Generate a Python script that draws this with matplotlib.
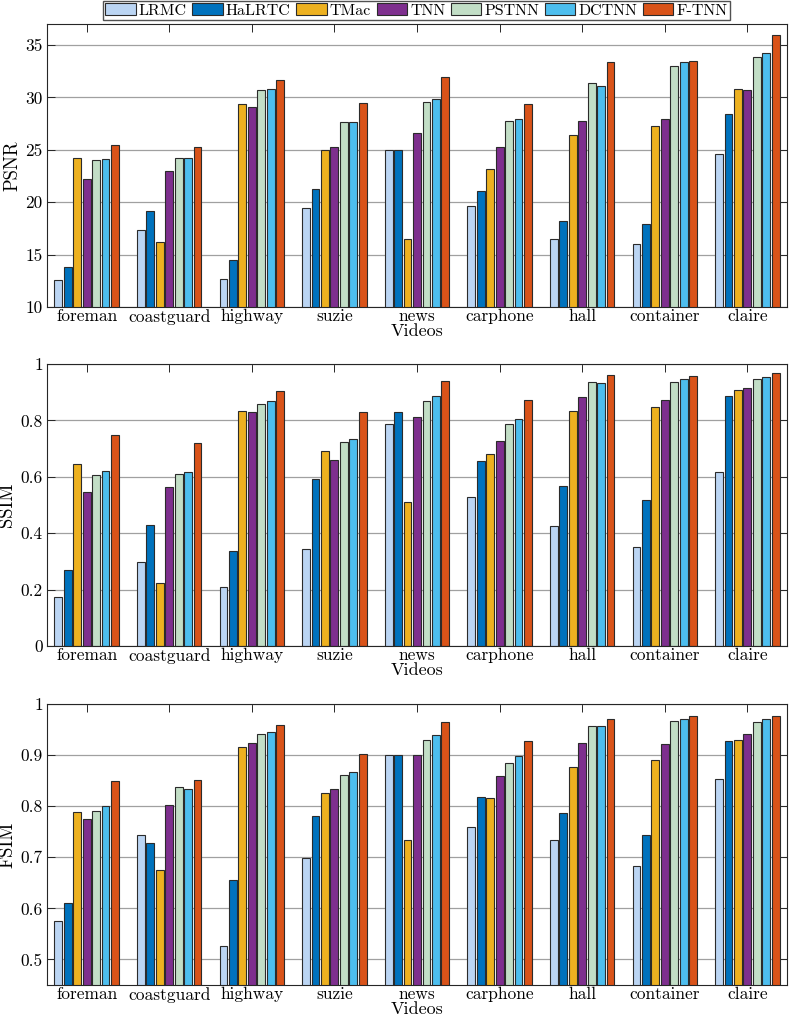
import matplotlib
matplotlib.use("Agg")
import matplotlib.pyplot as plt
import numpy as np

plt.rcParams['font.family'] = ['cmr10', 'DejaVu Serif']
plt.rcParams['axes.formatter.use_mathtext'] = True
plt.rcParams['mathtext.fontset'] = 'cm'

videos = ["foreman", "coastguard", "highway", "suzie", "news",
          "carphone", "hall", "container", "claire"]
methods = ["LRMC", "HaLRTC", "TMac", "TNN", "PSTNN", "DCTNN", "F-TNN"]
colors = ["#BBD5F3", "#0072BD", "#EDB120", "#7E2F8E", "#C2DEC6", "#4DBEEE", "#D95319"]

# PSNR per method (across videos)
psnr_LRMC   = [12.62, 17.38, 12.71, 19.42, 24.94, 19.61, 16.48, 15.97, 24.59]
psnr_HaLRTC = [13.83, 19.13, 14.53, 21.30, 24.97, 21.05, 18.24, 17.95, 28.42]
psnr_TMac   = [24.20, 16.23, 29.38, 24.97, 16.51, 23.15, 26.41, 27.27, 30.82]
psnr_TNN    = [22.20, 23.00, 29.09, 25.26, 26.63, 25.26, 27.78, 27.94, 30.66]
psnr_PSTNN  = [24.05, 24.24, 30.66, 27.62, 29.57, 27.75, 31.39, 33.02, 33.85]
psnr_DCTNN  = [24.08, 24.24, 30.79, 27.62, 29.86, 27.94, 31.10, 33.40, 34.23]
psnr_FTNN   = [25.50, 25.23, 31.65, 29.48, 31.93, 29.38, 33.37, 33.50, 35.96]

ssim_LRMC   = [0.175, 0.298, 0.208, 0.345, 0.786, 0.527, 0.426, 0.352, 0.618]
ssim_HaLRTC = [0.270, 0.430, 0.337, 0.591, 0.829, 0.655, 0.566, 0.519, 0.885]
ssim_TMac   = [0.645, 0.225, 0.834, 0.693, 0.509, 0.682, 0.832, 0.846, 0.908]
ssim_TNN    = [0.545, 0.565, 0.829, 0.661, 0.812, 0.728, 0.884, 0.871, 0.914]
ssim_PSTNN  = [0.605, 0.609, 0.857, 0.722, 0.869, 0.786, 0.935, 0.937, 0.948]
ssim_DCTNN  = [0.619, 0.616, 0.868, 0.734, 0.888, 0.805, 0.934, 0.946, 0.955]
ssim_FTNN   = [0.748, 0.720, 0.903, 0.829, 0.941, 0.872, 0.962, 0.956, 0.969]

fsim_LRMC   = [0.575, 0.744, 0.527, 0.699, 0.900, 0.759, 0.734, 0.682, 0.853]
fsim_HaLRTC = [0.610, 0.728, 0.656, 0.780, 0.900, 0.818, 0.787, 0.744, 0.927]
fsim_TMac   = [0.789, 0.676, 0.915, 0.826, 0.734, 0.816, 0.877, 0.890, 0.929]
fsim_TNN    = [0.774, 0.802, 0.923, 0.833, 0.900, 0.859, 0.923, 0.921, 0.942]
fsim_PSTNN  = [0.791, 0.838, 0.941, 0.861, 0.929, 0.885, 0.957, 0.966, 0.964]
fsim_DCTNN  = [0.800, 0.834, 0.946, 0.867, 0.939, 0.899, 0.957, 0.971, 0.970]
fsim_FTNN   = [0.850, 0.851, 0.959, 0.902, 0.964, 0.927, 0.971, 0.976, 0.976]

psnr = [psnr_LRMC, psnr_HaLRTC, psnr_TMac, psnr_TNN, psnr_PSTNN, psnr_DCTNN, psnr_FTNN]
ssim = [ssim_LRMC, ssim_HaLRTC, ssim_TMac, ssim_TNN, ssim_PSTNN, ssim_DCTNN, ssim_FTNN]
fsim = [fsim_LRMC, fsim_HaLRTC, fsim_TMac, fsim_TNN, fsim_PSTNN, fsim_DCTNN, fsim_FTNN]

W, H = 789, 1016
fig = plt.figure(figsize=(W / 100, H / 100), dpi=100)

panels = [
    (psnr, "PSNR", (10, 37), [10, 15, 20, 25, 30, 35], ["10", "15", "20", "25", "30", "35"], 24, 307),
    (ssim, "SSIM", (0, 1), [0, 0.2, 0.4, 0.6, 0.8, 1], ["0", "0.2", "0.4", "0.6", "0.8", "1"], 364, 646),
    (fsim, "FSIM", (0.45, 1), [0.5, 0.6, 0.7, 0.8, 0.9, 1], ["0.5", "0.6", "0.7", "0.8", "0.9", "1"], 704, 985),
]

x = np.arange(1, len(videos) + 1)
nb = len(methods)
pitch = 0.8 / nb
bw = pitch * 0.83
handles = []
for data, ylab, ylim, yt, ytl, top, bot in panels:
    left, right = 47, 787
    ax = fig.add_axes([left / W, 1 - bot / H, (right - left) / W, (bot - top) / H])
    ax.set_axisbelow(True)
    for j in range(nb):
        off = (j - (nb - 1) / 2) * pitch
        b = ax.bar(x + off, data[j], width=bw, color=colors[j], edgecolor="#2b2b2b",
                   linewidth=0.8, label=methods[j])
        if ylab == "PSNR":
            handles.append(b)
    ax.set_xlim(0.52, 9.48)
    ax.set_ylim(*ylim)
    ax.set_yticks(yt)
    ax.set_yticklabels(ytl)
    ax.set_xticks(x)
    ax.set_xticklabels(videos)
    ax.tick_params(axis="both", direction="in", top=True, right=True, labelsize=12.5,
                   length=6, width=0.7, color="#262626", pad=3)
    ax.tick_params(axis="x", pad=1.5)
    ax.yaxis.grid(True, color="#a0a0a0", linewidth=0.9)
    for s in ax.spines.values():
        s.set_color("#262626")
        s.set_linewidth(0.8)
    ax.set_ylabel(ylab, fontsize=13.5, labelpad=3)
    ax.set_xlabel("Videos", fontsize=13, labelpad=-1)

fig.legend(handles, methods, loc="upper center", bbox_to_anchor=(416.5 / W, 0.999),
           ncol=7, fontsize=11.5, frameon=True, fancybox=False, edgecolor="#262626",
           handlelength=1.9, handleheight=0.75, handletextpad=0.2, columnspacing=0.35,
           borderpad=0.15, borderaxespad=0.0)

fig.savefig("out.png", dpi=100)
